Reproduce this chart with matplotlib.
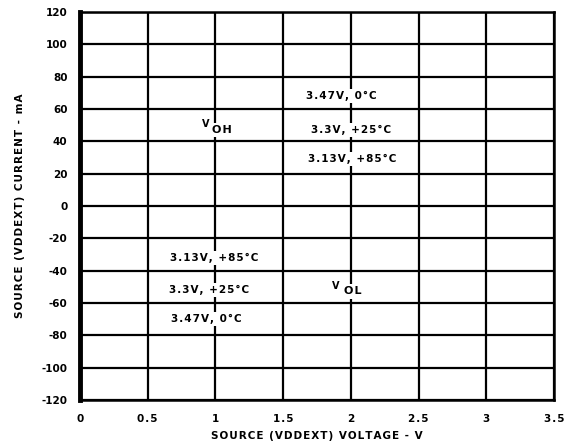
import matplotlib
matplotlib.use("Agg")
import matplotlib.pyplot as plt

plt.rcParams['axes.unicode_minus'] = False

# axis ranges / ticks
x_ticks = [0, 0.5, 1, 1.5, 2, 2.5, 3, 3.5]
x_tick_labels = ['0', '0.5', '1', '1.5', '2', '2.5', '3', '3.5']
y_ticks = [-120, -100, -80, -60, -40, -20, 0, 20, 40, 60, 80, 100, 120]

# condition labels (voltage, temperature) and where they sit
voh_labels = ['3.47V, 0°C', '3.3V, +25°C', '3.13V, +85°C']
voh_x = [1.93, 2.0, 2.01]
voh_y = [68, 47, 29]
vol_labels = ['3.13V, +85°C', '3.3V, +25°C', '3.47V, 0°C']
vol_x = [0.99, 0.95, 0.93]
vol_y = [-32, -52, -70]


def spaced(s):
    # datasheet font has loose tracking; fake it with hair spaces
    return '\u200a'.join(s)


fig = plt.figure(figsize=(5.64, 4.48), dpi=100)
ax = fig.add_axes([80/564, 48/448, 474/564, 388/448])

ax.set_xlim(0, 3.5)
ax.set_ylim(-120, 120)
ax.set_xticks(x_ticks)
ax.set_xticklabels([spaced(t) for t in x_tick_labels])
ax.set_yticks(y_ticks)
ax.set_yticklabels([str(v) for v in y_ticks])
ax.grid(True, color='k', linewidth=1.6)
ax.tick_params(length=0, labelsize=7.5)
ax.tick_params(axis='x', pad=10)
ax.tick_params(axis='y', pad=9)
for lbl in ax.get_xticklabels() + ax.get_yticklabels():
    lbl.set_fontweight('bold')
for side in ['top', 'right', 'bottom']:
    ax.spines[side].set_linewidth(1.8)
ax.spines['left'].set_linewidth(3.5)

ax.set_xlabel(spaced('SOURCE (VDDEXT) VOLTAGE - V'), fontsize=7.5, fontweight='bold', labelpad=5)
ax.set_ylabel(spaced('SOURCE (VDDEXT) CURRENT - mA'), fontsize=7.5, fontweight='bold', labelpad=12)

box = dict(facecolor='white', edgecolor='none', pad=1.5)
for txt, x, y in zip(voh_labels, voh_x, voh_y):
    ax.text(x, y, spaced(txt), ha='center', va='center', fontsize=7.5, fontweight='bold', bbox=box)
for txt, x, y in zip(vol_labels, vol_x, vol_y):
    ax.text(x, y, spaced(txt), ha='center', va='center', fontsize=7.5, fontweight='bold', bbox=box)

# V_OH / V_OL: raised V, then the subscript letters on the baseline
for x, y, sub in [(1.02, 48, 'OH'), (1.98, -52, 'OL')]:
    ax.annotate('V', (x, y), xytext=(-9, 3), textcoords='offset points',
                ha='center', va='center', fontsize=7, fontweight='bold')
    ax.annotate(spaced(sub), (x, y), xytext=(3, -1), textcoords='offset points',
                ha='center', va='center', fontsize=8, fontweight='bold',
                bbox=box)

fig.savefig('out.png', dpi=100)
